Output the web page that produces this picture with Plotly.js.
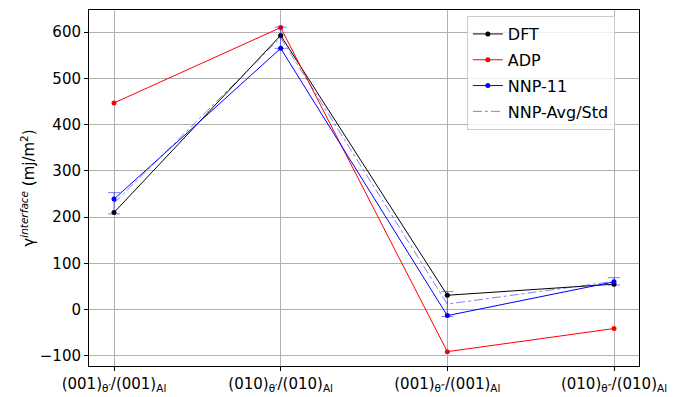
<!DOCTYPE html>
<html><head><meta charset="utf-8">
<script src="https://cdn.plot.ly/plotly-3.0.1.min.js"></script>
<style>body{margin:0;background:#fff}#c{width:686px;height:397px}</style>
</head><body><div id="c"></div>
<script>
const categories = [0, 1, 2, 3];
const tickLabels = [
  "(001)<sub>θ′</sub>/(001)<sub>Al</sub>",
  "(010)<sub>θ′</sub>/(010)<sub>Al</sub>",
  "(001)<sub>θ″</sub>/(001)<sub>Al</sub>",
  "(010)<sub>θ″</sub>/(010)<sub>Al</sub>"
];
const dft = [210, 593, 31, 55];
const adp = [447, 610, -91, -41];
const nnp11 = [239, 565, -13, 60];
const nnpAvg = [230, 588, 12, 61];
const nnpStd = [23, 23, 27, 8];

const traces = [
  {x: categories, y: dft, name: "DFT", mode: "lines+markers", legendgroup: "a",
   line: {color: "black", width: 1}, marker: {color: "black", size: 5}},
  {x: categories, y: adp, name: "ADP", mode: "lines+markers", legendgroup: "b",
   line: {color: "red", width: 1}, marker: {color: "red", size: 5}},
  {x: categories, y: nnp11, name: "NNP-11", mode: "lines+markers", legendgroup: "c",
   line: {color: "blue", width: 1}, marker: {color: "blue", size: 5}},
  {x: categories, y: nnpAvg, name: "NNP-Avg/Std", mode: "lines", legendgroup: "d",
   line: {color: "rgba(0,0,255,0.5)", width: 1, dash: "dashdot"},
   error_y: {type: "data", array: nnpStd, visible: true, color: "rgba(0,0,255,0.5)", thickness: 1, width: 6}}
];

const layout = {
  width: 686, height: 397,
  margin: {l: 89, r: 47, t: 10, b: 31},
  paper_bgcolor: "#fff", plot_bgcolor: "#fff",
  font: {family: "DejaVu Sans", size: 15, color: "#000"},
  showlegend: true,
  legend: {x: 0.687, y: 0.983, xanchor: "left", yanchor: "top",
    bgcolor: "rgba(255,255,255,0.8)", bordercolor: "#cccccc", borderwidth: 1,
    tracegroupgap: 2,
    font: {family: "DejaVu Sans", size: 16}},
  xaxis: {range: [-0.15, 3.15], tickvals: categories, ticktext: tickLabels,
    showgrid: true, gridcolor: "#b0b0b0", gridwidth: 1, zeroline: false,
    showline: true, linecolor: "#000", linewidth: 1, mirror: true,
    ticks: "outside", ticklen: 4, tickcolor: "#000",
    tickfont: {family: "DejaVu Sans", size: 15}},
  yaxis: {range: [-122, 648], tickvals: [-100, 0, 100, 200, 300, 400, 500, 600],
    showgrid: true, gridcolor: "#b0b0b0", gridwidth: 1, zeroline: false,
    showline: true, linecolor: "#000", linewidth: 1, mirror: true,
    ticks: "outside", ticklen: 4, tickcolor: "#000",
    tickfont: {family: "DejaVu Sans", size: 15},
    title: {text: "γ<sup><i>interface</i></sup> (mj/m<sup>2</sup>)", font: {family: "DejaVu Sans", size: 15}, standoff: 1}}
};
Plotly.newPlot("c", traces, layout, {displayModeBar: false, staticPlot: true});
</script></body></html>
